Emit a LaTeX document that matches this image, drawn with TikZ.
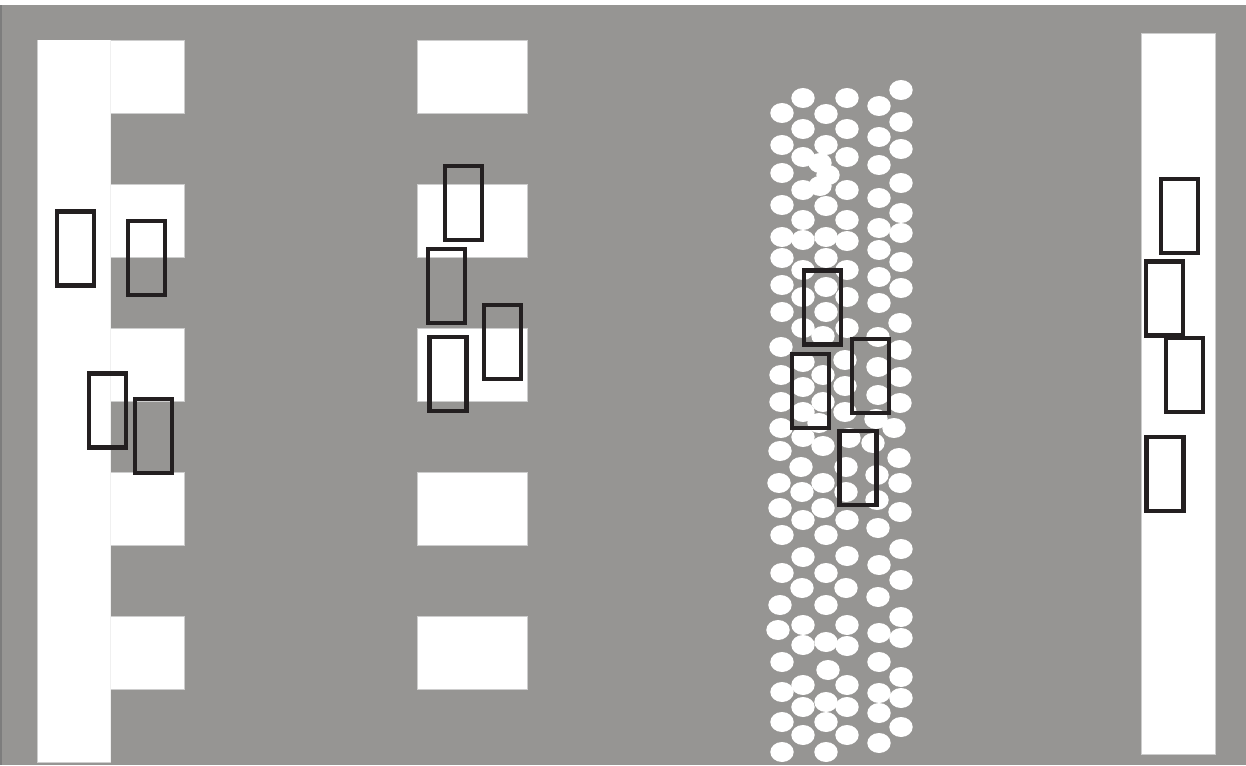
\documentclass[tikz,border=0pt]{standalone}
\definecolor{roadgray}{RGB}{150,149,147}
\definecolor{edgegray}{RGB}{125,125,125}
\definecolor{lanerim}{RGB}{205,205,205}
\definecolor{seam}{RGB}{240,240,240}
\definecolor{carink}{RGB}{35,31,32}
\begin{document}
\begin{tikzpicture}[x=1pt,y=-1pt,
  road/.style={fill=roadgray},
  lane/.style={fill=white,draw=lanerim,line width=0.6pt},
  dot/.style={fill=white},
  car/.style={draw=carink,line width=4.3pt,minimum width=37pt,minimum height=74pt,inner sep=0pt,shape=rectangle}]
\useasboundingbox (0,0) rectangle (1246,765);
\fill[white] (0,0) rectangle (1246,765);
\fill[road] (0,5) rectangle (1246,765);
\fill[edgegray] (0,5) rectangle (2,765);
% left lane with steps
\foreach \y in {40,184,328,472,616}{
  \filldraw[lane] (110,\y) rectangle (184,\y+73);
}
\filldraw[lane] (37,40) rectangle (110,762);
\fill[white] (37.5,40.5) rectangle (109.7,761.5);
\draw[seam,line width=0.5pt] (110,40.5) -- (110,761.5);
% middle blocks
\foreach \y in {40,184,328,472,616}{
  \filldraw[lane] (417,\y) rectangle (527,\y+73);
}
% right lane
\filldraw[lane] (1141.5,33) rectangle (1215,754);
% dots
\foreach \p in {
(803,98),(847,98),(901,90),(879,106),(782,113),(826,114),(803,129),(847,129),(901,122),(879,137),
(782,145),(826,145),(901,149),(803,157),(847,157),(879,165),(782,173),(820,163),(828,175),(820,186),
(901,183),(803,190),(847,190),(879,198),(782,205),(826,206),(901,213),(803,220),(847,220),(879,228),
(901,233),(782,237),(803,240),(826,237),(847,241),(879,250),(782,258),(826,258),(901,262),(803,270),
(847,270),(879,277),(782,285),(826,287),(901,288),(803,297),(847,297),(879,303),
(782,312),(826,312),(900,323),(803,328),(847,328),(878,337),(781,347),(823,336),(900,350),(845,360),
(878,367),(803,362),(781,375),(823,375),(900,377),(803,387),(845,386),(878,395),(781,402),(823,402),
(900,403),(803,412),(845,412),(781,428),(819,423),(876,419),(894,428),(803,437),(849,438),(780,451),
(823,446),(873,443),(899,458),(801,467),(846,467),(877,475),(779,483),(823,483),(900,483),(802,492),
(846,492),(877,500),(780,508),(823,508),(900,512),(803,520),(847,520),(878,528),(782,535),(826,535),
(901,549),(803,557),(847,556),(879,565),(782,573),(826,573),(901,580),(802,588),(846,588),
(878,597),(780,605),(826,605),(901,617),(778,630),(803,625),(847,625),(879,633),(901,638),(803,645),
(826,642),(847,646),(782,662),(879,662),(828,670),(901,677),(803,685),(847,685),(782,692),(879,693),
(803,707),(826,702),(847,707),(901,698),(879,713),(782,722),(826,722),(901,727),(803,735),(847,735),
(879,743),(782,752),(826,752)}{
  \fill[dot] \p ellipse [x radius=11.7, y radius=10];
}
% vehicles
\node[car] (c1) at (75.5,248.5) {};
\node[car] (c2) at (146.5,258) {};
\node[car] (c3) at (107.5,410.5) {};
\node[car] (c4) at (153.5,436) {};
\node[car] (c5) at (463.5,203) {};
\node[car] (c6) at (446.5,286) {};
\node[car] (c7) at (502.5,342) {};
\node[car] (c8) at (448,374) {};
\node[car] (c9) at (822.5,307.5) {};
\node[car] (c10) at (810.5,391) {};
\node[car] (c11) at (870.5,376) {};
\node[car] (c12) at (858,468) {};
\node[car] (c13) at (1179.5,216) {};
\node[car] (c14) at (1164.5,298.5) {};
\node[car] (c15) at (1184.5,375) {};
\node[car] (c16) at (1165,474) {};
\end{tikzpicture}
\end{document}
